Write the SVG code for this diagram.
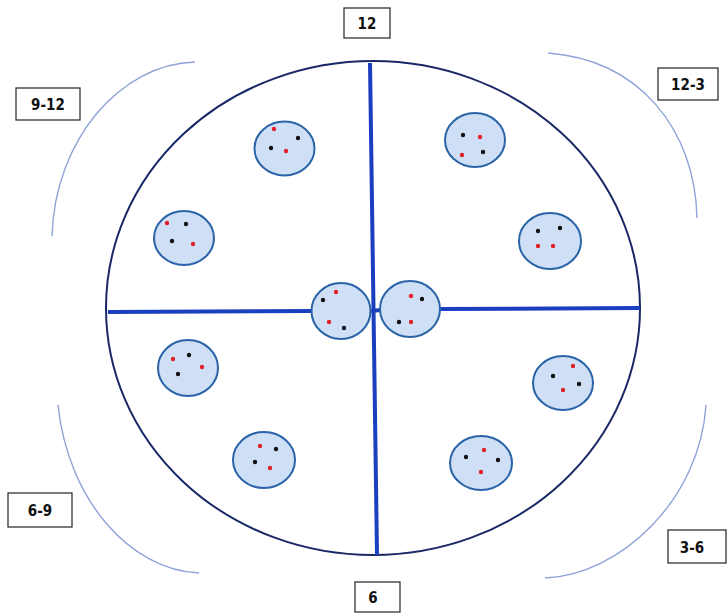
<svg xmlns="http://www.w3.org/2000/svg" width="727" height="616" viewBox="0 0 727 616">
<style>
.lbl rect{fill:#fff;stroke:#333;stroke-width:1.3}
.lbl text{font-family:"DejaVu Sans Condensed","Liberation Sans",Arial,sans-serif;font-stretch:condensed;font-weight:bold;font-size:15px;fill:#111;text-anchor:middle}
.arc{fill:none;stroke:#8ea3d8;stroke-width:1.4}
.div{stroke:#1a3fbf;stroke-width:4;fill:none}
.cell ellipse{fill:#cfdff5;stroke:#2a63a8;stroke-width:2}
.r{fill:#e0202a}
.b{fill:#111}
</style>
<rect width="727" height="616" fill="#fff"/>
<g id="plate">
<ellipse cx="373" cy="308" rx="267" ry="247" fill="none" stroke="#1a2866" stroke-width="2"/>
</g>
<g id="connectors">
<path class="arc" d="M195,62 C120,64 55,140 52,236"/>
<path class="arc" d="M548,53 C640,60 695,130 697,218"/>
<path class="arc" d="M58,405 C68,500 130,570 199,573"/>
<path class="arc" d="M706,405 C700,500 620,575 545,578"/>
<path class="div" d="M370,63 L377,555"/>
<path class="div" d="M108,312 L312,311"/>
<path class="div" d="M371,311 L381,310"/>
<path class="div" d="M440,309 L640,308"/>
</g>
<g id="label-12" class="lbl"><rect x="344" y="8" width="46" height="30"/><text x="367" y="29">12</text></g>
<g id="label-9-12" class="lbl"><rect x="16" y="88" width="64" height="32"/><text x="48" y="110">9-12</text></g>
<g id="label-12-3" class="lbl"><rect x="658" y="68" width="60" height="32"/><text x="688" y="90">12-3</text></g>
<g id="label-6-9" class="lbl"><rect x="8" y="493" width="64" height="34"/><text x="40" y="516">6-9</text></g>
<g id="label-3-6" class="lbl"><rect x="668" y="530" width="58" height="33"/><text x="692" y="553">3-6</text></g>
<g id="label-6" class="lbl"><rect x="355" y="582" width="45" height="30"/><text x="373" y="603">6</text></g>
<g id="cell-1" class="cell"><ellipse cx="284.5" cy="148.5" rx="30" ry="27"/><circle class="r" cx="274" cy="129" r="2.2"/><circle class="b" cx="298" cy="138" r="2.2"/><circle class="b" cx="271" cy="148" r="2.2"/><circle class="r" cx="286" cy="151" r="2.2"/></g>
<g id="cell-2" class="cell"><ellipse cx="475" cy="140" rx="30" ry="27"/><circle class="b" cx="463" cy="135" r="2.2"/><circle class="r" cx="480" cy="137" r="2.2"/><circle class="r" cx="462" cy="155" r="2.2"/><circle class="b" cx="483" cy="152" r="2.2"/></g>
<g id="cell-3" class="cell"><ellipse cx="184" cy="238" rx="30" ry="27"/><circle class="r" cx="167" cy="223" r="2.2"/><circle class="b" cx="186" cy="224" r="2.2"/><circle class="b" cx="172" cy="241" r="2.2"/><circle class="r" cx="193" cy="244" r="2.2"/></g>
<g id="cell-4" class="cell"><ellipse cx="550" cy="241" rx="31" ry="28"/><circle class="b" cx="538" cy="231" r="2.2"/><circle class="b" cx="560" cy="228" r="2.2"/><circle class="r" cx="538" cy="246" r="2.2"/><circle class="r" cx="553" cy="246" r="2.2"/></g>
<g id="cell-5" class="cell"><ellipse cx="341" cy="311" rx="29.5" ry="28"/><circle class="r" cx="336" cy="292" r="2.2"/><circle class="b" cx="323" cy="300" r="2.2"/><circle class="r" cx="329" cy="322" r="2.2"/><circle class="b" cx="344" cy="328" r="2.2"/></g>
<g id="cell-6" class="cell"><ellipse cx="410" cy="309" rx="30" ry="28"/><circle class="r" cx="411" cy="296" r="2.2"/><circle class="b" cx="422" cy="299" r="2.2"/><circle class="b" cx="399" cy="322" r="2.2"/><circle class="r" cx="411" cy="322" r="2.2"/></g>
<g id="cell-7" class="cell"><ellipse cx="188" cy="368" rx="30" ry="28"/><circle class="r" cx="173" cy="359" r="2.2"/><circle class="b" cx="189" cy="355" r="2.2"/><circle class="r" cx="202" cy="367" r="2.2"/><circle class="b" cx="178" cy="374" r="2.2"/></g>
<g id="cell-8" class="cell"><ellipse cx="563" cy="383" rx="30" ry="27"/><circle class="r" cx="573" cy="366" r="2.2"/><circle class="b" cx="553" cy="376" r="2.2"/><circle class="b" cx="579" cy="384" r="2.2"/><circle class="r" cx="563" cy="390" r="2.2"/></g>
<g id="cell-9" class="cell"><ellipse cx="264" cy="460" rx="31" ry="28"/><circle class="r" cx="260" cy="446" r="2.2"/><circle class="b" cx="276" cy="449" r="2.2"/><circle class="b" cx="255" cy="462" r="2.2"/><circle class="r" cx="270" cy="468" r="2.2"/></g>
<g id="cell-10" class="cell"><ellipse cx="481" cy="463" rx="31" ry="27"/><circle class="r" cx="484" cy="450" r="2.2"/><circle class="b" cx="466" cy="457" r="2.2"/><circle class="b" cx="498" cy="460" r="2.2"/><circle class="r" cx="481" cy="472" r="2.2"/></g>
</svg>
